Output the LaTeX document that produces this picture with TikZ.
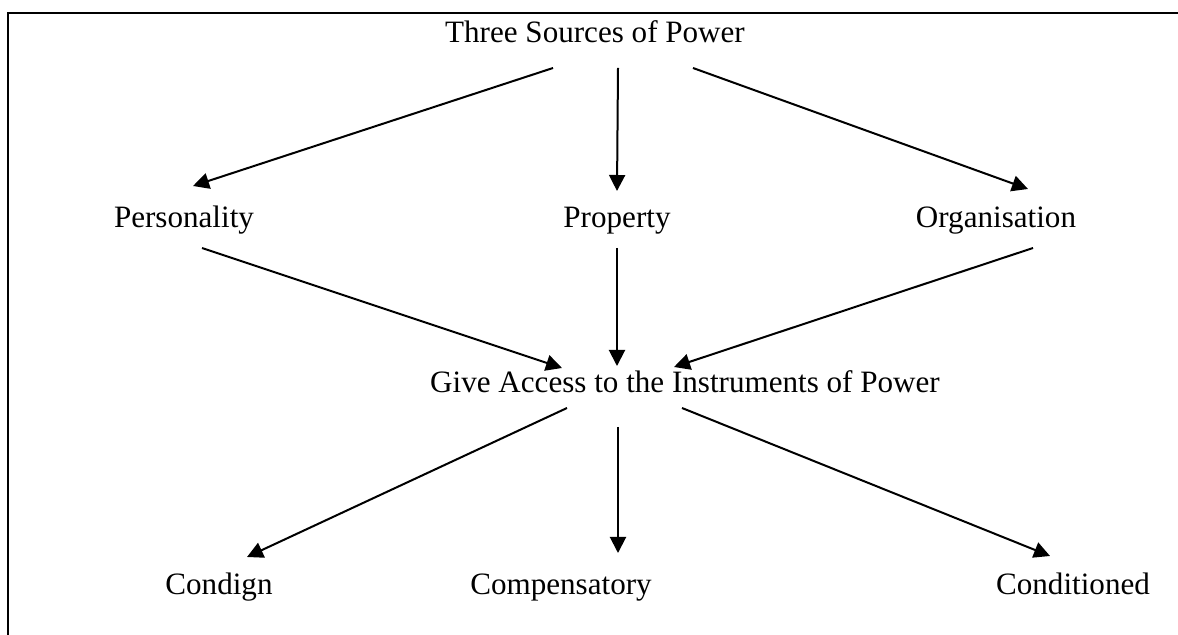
\documentclass[tikz,border=0pt]{standalone}
\usepackage{fontspec}
\setmainfont{Liberation Serif}
\usetikzlibrary{arrows.meta}
\begin{document}
\begin{tikzpicture}[x=0.5pt,y=-0.5pt,
  lbl/.style={anchor=base,inner sep=0pt,font=\fontsize{15.55}{18}\selectfont},
  arr/.style={line width=1pt,-{Triangle[length=8pt,width=8pt]}},
  frame/.style={line width=1pt}]
\useasboundingbox (0,0) rectangle (1178,635);
\draw[frame] (8,640) -- (8,13) -- (1185,13);
% nodes
\node[lbl] (top)  at (595,43)  {Three Sources of Power};
\node[lbl] (pers) at (184,228) {Personality};
\node[lbl] (prop) at (617,228) {Property};
\node[lbl] (org)  at (996,228) {Organisation};
\node[lbl] (give) at (685,393) {Give Access to the Instruments of Power};
\node[lbl] (cond) at (219,595) {Condign};
\node[lbl] (comp) at (561,595) {Compensatory};
\node[lbl] (condi) at (1073,595) {Conditioned};
% upper arrows
\draw[arr] ([shift={(-42,25)}]top.base) -- ([shift={(9,-42)}]pers.base);
\draw[arr] ([shift={(23,25)}]top.base) -- ([shift={(0,-37)}]prop.base);
\draw[arr] ([shift={(98,25)}]top.base) -- ([shift={(32,-39)}]org.base);
% middle arrows
\draw[arr] ([shift={(18,20)}]pers.base) -- ([shift={(-123,-25)}]give.base);
\draw[arr] ([shift={(0,20)}]prop.base) -- ([shift={(-68,-27)}]give.base);
\draw[arr] ([shift={(37,20)}]org.base) -- ([shift={(-11,-26)}]give.base);
% lower arrows
\draw[arr] ([shift={(-118,15)}]give.base) -- ([shift={(28,-38)}]cond.base);
\draw[arr] ([shift={(-67,34)}]give.base) -- ([shift={(57,-42)}]comp.base);
\draw[arr] ([shift={(-3,15)}]give.base) -- ([shift={(-23,-39)}]condi.base);
\end{tikzpicture}
\end{document}
